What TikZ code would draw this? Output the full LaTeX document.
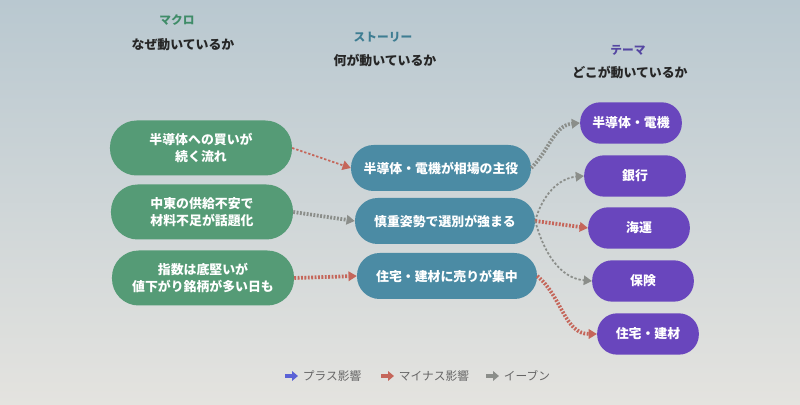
\documentclass[tikz,border=0pt]{standalone}
\usepackage{fontspec}
\setmainfont{Noto Sans CJK JP}
\usetikzlibrary{arrows.meta,positioning,calc}
\usepackage{xcolor}

\definecolor{macrogreen}{HTML}{559B76}
\definecolor{storyblue}{HTML}{4B8BA4}
\definecolor{themepurple}{HTML}{6946BD}
\definecolor{headgreen}{HTML}{3F8C68}
\definecolor{headblue}{HTML}{3E7D92}
\definecolor{headpurple}{HTML}{5547A2}
\definecolor{plusblue}{HTML}{5A62D6}
\definecolor{minusred}{HTML}{C5665A}
\definecolor{evengray}{HTML}{8B8E8A}
\definecolor{bgtop}{HTML}{B9C8D0}
\definecolor{bgbottom}{HTML}{E4E3DF}

\tikzset{
  box/.style={text=white, align=center, inner sep=0pt,
    font=\bfseries\fontsize{11}{15}\selectfont},
  macro/.style={box, fill=macrogreen, minimum width=5.46cm, minimum height=1.65cm, rounded corners=0.8cm},
  story/.style={box, fill=storyblue, minimum width=5.4cm, minimum height=1.38cm, rounded corners=0.68cm},
  theme/.style={box, fill=themepurple, minimum width=3.05cm, minimum height=1.24cm, rounded corners=0.6cm},
  head/.style={font=\bfseries\fontsize{10}{12}\selectfont},
  sub/.style={font=\bfseries\fontsize{11}{13}\selectfont, text=black!85},
  link/.style={-{Triangle[length=7pt,width=8pt]}},
  plus/.style={link, draw=plusblue},
  minus/.style={link, draw=minusred},
  even/.style={link, draw=evengray},
  thin dots/.style={line width=1.5pt, dash pattern=on 2pt off 1.6pt},
  fat dots/.style={line width=3.2pt, dash pattern=on 1.6pt off 1.3pt},
  legend/.style={font=\fontsize{10}{12}\selectfont, text=black!60, inner sep=1pt},
  legarrow/.style={line width=3pt, -{Triangle[length=5pt,width=8pt]}}
}

\begin{document}
\begin{tikzpicture}[x=0.03cm,y=0.03cm]

  % Sfondo
  \shade[top color=bgtop, bottom color=bgbottom] (0,0) rectangle (800,-405);
  \useasboundingbox (0,0) rectangle (800,-405);

  % Intestazioni
  \node[head, text=headgreen] (macrohead) at (177,-20) {マクロ};
  \node[sub] (macrosub) at (183,-45) {なぜ動いているか};
  \node[head, text=headblue] (storyhead) at (383,-37) {ストーリー};
  \node[sub] (storysub) at (385,-61) {何が動いているか};
  \node[head, text=headpurple] (themehead) at (628,-50) {テーマ};
  \node[sub] (themesub) at (630,-73) {どこが動いているか};

  % Colonna sinistra
  \node[macro] (macro1) at (201,-148) {半導体への買いが\\続く流れ};
  \node[macro] (macro2) at (202,-212) {中東の供給不安で\\材料不足が話題化};
  \node[macro] (macro3) at (203,-278) {指数は底堅いが\\値下がり銘柄が多い日も};

  % Colonna centrale
  \node[story] (story1) at (441,-168) {半導体・電機が相場の主役};
  \node[story] (story2) at (445,-221) {慎重姿勢で選別が強まる};
  \node[story] (story3) at (447,-276) {住宅・建材に売りが集中};

  % Colonna destra
  \node[theme] (theme1) at (631,-123) {半導体・電機};
  \node[theme] (theme2) at (635,-176) {銀行};
  \node[theme] (theme3) at (639,-228) {海運};
  \node[theme] (theme4) at (643,-281) {保険};
  \node[theme] (theme5) at (648,-334) {住宅・建材};

  % Frecce
  \draw[minus, thin dots] (macro1.east) -- (story1.west);
  \draw[even, fat dots] (macro2.east) -- (story2.west);
  \draw[minus, fat dots] (macro3.east) -- (story3.west);

  \draw[even, fat dots] (story1.east) to[out=45,in=185] (theme1.west);
  \draw[even, thin dots] (story2.east) to[out=75,in=185] (theme2.west);
  \draw[minus, fat dots] (story2.east) -- (theme3.west);
  \draw[even, thin dots] (story2.east) to[out=-75,in=175] (theme4.west);
  \draw[minus, fat dots] (story3.east) to[out=-40,in=180] (theme5.west);

  % Legenda
  \coordinate (plusA) at (285,-376);
  \coordinate (plusB) at (298,-376);
  \draw[legarrow, plusblue] (plusA) -- (plusB);
  \node[legend, right=3pt of plusB] (pluslabel) {プラス影響};
  \coordinate (minusA) at (381,-376);
  \coordinate (minusB) at (394,-376);
  \draw[legarrow, minusred] (minusA) -- (minusB);
  \node[legend, right=3pt of minusB] (minuslabel) {マイナス影響};
  \coordinate (evenA) at (486,-376);
  \coordinate (evenB) at (499,-376);
  \draw[legarrow, evengray] (evenA) -- (evenB);
  \node[legend, right=3pt of evenB] (evenlabel) {イーブン};

\end{tikzpicture}
\end{document}
